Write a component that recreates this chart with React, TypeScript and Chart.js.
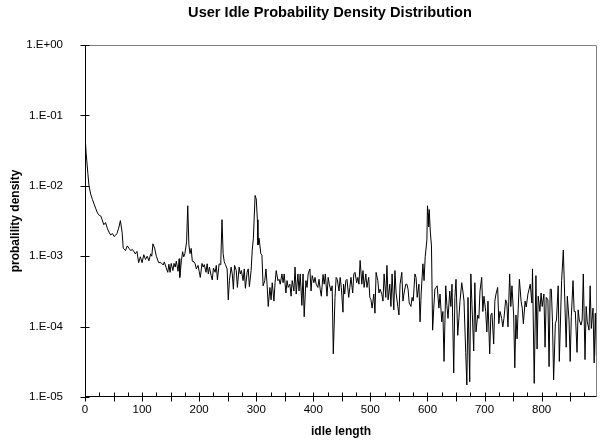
import React, { useEffect, useRef } from 'react';
import { Chart, registerables } from 'chart.js';

Chart.register(...registerables);

const chartTitle = 'User Idle Probability Density Distribution';
const xAxisTitle = 'idle length';
const yAxisTitle = 'probalility density';

const xTickValues = [0, 100, 200, 300, 400, 500, 600, 700, 800];
const xTickLabels = ['0', '100', '200', '300', '400', '500', '600', '700', '800'];
const yTickValues = [1e-5, 1e-4, 1e-3, 1e-2, 1e-1, 1];
const yTickLabels = ['1.E-05', '1.E-04', '1.E-03', '1.E-02', '1.E-01', '1.E+00'];

const idleLength = [
  0, 2, 5, 7, 10, 13, 16, 19, 22, 25,
  28, 30, 33, 36, 39, 42, 45, 48, 51, 54,
  56, 59, 62, 65, 67, 71, 74, 77, 80, 83,
  86, 88, 91, 94, 97, 100, 103, 106, 109, 112,
  115, 117, 119, 122, 125, 129, 133, 137, 139, 142,
  145, 147, 149, 151, 154, 156, 158, 160, 163, 165,
  166, 169, 171, 173, 175, 178, 180, 182, 184, 186,
  188, 191, 193, 195, 198, 200, 202, 205, 207, 209,
  212, 214, 216, 218, 221, 223, 225, 228, 230, 232,
  235, 237, 238, 240, 242, 244, 246, 249, 251, 253,
  256, 258, 260, 262, 265, 267, 270, 272, 274, 277,
  279, 281, 284, 286, 288, 291, 293, 295, 298, 300,
  302, 303, 305, 308, 310, 312, 315, 317, 319, 321,
  324, 326, 328, 331, 333, 335, 338, 340, 342, 345,
  347, 349, 352, 354, 356, 359, 361, 363, 366, 368,
  370, 373, 375, 377, 380, 382, 384, 387, 389, 391,
  394, 396, 398, 401, 403, 405, 408, 410, 412, 414,
  417, 419, 421, 424, 426, 428, 431, 433, 435, 438,
  440, 442, 445, 447, 449, 452, 453, 455, 457, 459,
  462, 464, 466, 469, 471, 473, 476, 478, 480, 482,
  485, 487, 489, 492, 494, 497, 499, 501, 503, 506,
  508, 510, 513, 515, 517, 520, 522, 524, 527, 529,
  531, 534, 536, 538, 541, 543, 545, 548, 550, 552,
  555, 557, 559, 562, 564, 566, 568, 571, 573, 575,
  578, 580, 582, 585, 587, 589, 592, 594, 596, 599,
  600, 601, 602, 603, 605, 607, 609, 611, 613, 615,
  617, 620, 622, 625, 627, 629, 632, 634, 636, 639,
  641, 643, 646, 648, 650, 653, 655, 657, 660, 662,
  664, 667, 669, 671, 674, 676, 678, 681, 683, 685,
  688, 690, 692, 695, 697, 699, 702, 704, 706, 709,
  711, 713, 716, 718, 720, 723, 725, 727, 730, 732,
  734, 737, 739, 741, 744, 746, 748, 751, 753, 755,
  757, 759, 761, 764, 766, 768, 771, 773, 776, 778,
  780, 783, 784, 787, 790, 792, 794, 797, 799, 801,
  804, 806, 808, 811, 813, 815, 817, 819, 821, 824,
  826, 829, 831, 835, 838, 841, 843, 845, 848, 850,
  852, 855, 857, 859, 862, 864, 866, 869, 871, 873,
  876, 878, 880, 883, 885, 887, 890, 892, 894, 896,
  897,
];

const density = [
  5.2e-2, 2.9e-2, 1.5e-2, 1.0e-2, 7.6e-3, 6.4e-3, 5.5e-3, 4.7e-3, 4.1e-3, 3.8e-3,
  3.7e-3, 3.3e-3, 2.8e-3, 3.0e-3, 2.5e-3, 2.2e-3, 2.0e-3, 2.1e-3, 1.9e-3, 2.0e-3,
  2.1e-3, 2.5e-3, 3.2e-3, 2.2e-3, 1.3e-3, 1.2e-3, 1.4e-3, 1.3e-3, 1.2e-3, 1.25e-3,
  1.15e-3, 1.08e-3, 1.17e-3, 8.1e-4, 9.8e-4, 8.1e-4, 1.05e-3, 9.0e-4, 1.0e-3, 8.6e-4,
  1.08e-3, 1.0e-3, 1.5e-3, 1.3e-3, 1.0e-3, 8.1e-4, 8.1e-4, 7.5e-4, 8.3e-4, 6.9e-4,
  5.9e-4, 7.7e-4, 5.9e-4, 7.9e-4, 6.25e-4, 7.9e-4, 7.0e-4, 8.5e-4, 6.1e-4, 9.2e-4,
  5.0e-4, 8.7e-4, 1.16e-3, 9.8e-4, 1.09e-3, 1.6e-3, 5.2e-3, 1.45e-3, 1.09e-3, 1.29e-3,
  8.5e-4, 8.3e-4, 7.8e-4, 6.6e-4, 7.4e-4, 6.1e-4, 5.0e-4, 7.9e-4, 7.0e-4, 7.6e-4,
  5.9e-4, 7.8e-4, 5.6e-4, 7.0e-4, 5.3e-4, 4.6e-4, 6.8e-4, 5.9e-4, 7.4e-4, 4.6e-4,
  7.8e-4, 7.6e-4, 9.0e-4, 3.3e-3, 1.09e-3, 8.3e-4, 7.6e-4, 6.6e-4, 2.4e-4, 4.5e-4,
  7.0e-4, 5.6e-4, 3.4e-4, 7.4e-4, 6.25e-4, 3.6e-4, 7.0e-4, 5.6e-4, 6.25e-4, 4.5e-4,
  6.6e-4, 3.5e-4, 5.9e-4, 6.6e-4, 3.7e-4, 6.25e-4, 1.22e-3, 1.8e-3, 7.3e-3, 6.5e-3,
  3.3e-3, 1.45e-3, 1.8e-3, 1.09e-3, 1.03e-3, 3.8e-4, 4.5e-4, 6.6e-4, 4.0e-4, 1.93e-4,
  3.6e-4, 2.4e-4, 4.2e-4, 2.3e-4, 4.2e-4, 6.25e-4, 4.5e-4, 4.7e-4, 4.0e-4, 5.6e-4,
  4.2e-4, 5.6e-4, 3.0e-4, 4.5e-4, 3.6e-4, 4.0e-4, 2.7e-4, 4.5e-4, 3.2e-4, 7.0e-4,
  2.9e-4, 5.6e-4, 3.2e-4, 5.6e-4, 2.0e-4, 5.6e-4, 1.38e-4, 4.5e-4, 3.6e-4, 5.6e-4,
  6.6e-4, 3.2e-4, 5.3e-4, 4.2e-4, 5.0e-4, 4.0e-4, 3.6e-4, 4.7e-4, 3.4e-4, 2.7e-4,
  5.5e-4, 4.0e-4, 5.6e-4, 2.7e-4, 5.0e-4, 4.0e-4, 3.2e-4, 3.8e-4, 4.1e-5, 2.6e-4,
  5.0e-4, 4.7e-4, 3.2e-4, 5.0e-4, 3.6e-4, 1.6e-4, 4.0e-4, 2.9e-4, 4.5e-4, 4.7e-4,
  2.6e-4, 3.6e-4, 5.0e-4, 3.0e-4, 5.6e-4, 5.9e-4, 4.2e-4, 5.0e-4, 4.0e-4, 8.7e-4,
  4.0e-4, 6.25e-4, 3.6e-4, 5.6e-4, 3.6e-4, 5.0e-4, 2.6e-4, 2.4e-4, 1.83e-4, 2.9e-4,
  1.55e-4, 5.9e-4, 4.5e-4, 3.0e-4, 3.4e-4, 2.9e-4, 2.3e-4, 5.6e-4, 2.6e-4, 7.4e-4,
  2.4e-4, 4.0e-4, 1.93e-4, 5.6e-4, 1.73e-4, 6.25e-4, 3.0e-4, 1.93e-4, 1.46e-4, 4.0e-4,
  5.9e-4, 2.3e-4, 3.0e-4, 4.0e-4, 4.0e-4, 3.4e-4, 2.16e-4, 1.93e-4, 2.6e-4, 2.3e-4,
  5.6e-4, 5.0e-4, 2.6e-4, 4.0e-4, 1.17e-4, 3.0e-4, 7.8e-4, 4.5e-4, 9.8e-4, 1.7e-3,
  5.2e-3, 4.0e-3, 2.6e-3, 4.6e-3, 2.2e-3, 1.4e-3, 8.9e-5, 1.83e-4, 3.4e-4, 3.6e-4,
  3.8e-4, 1.83e-4, 2.9e-4, 1.17e-4, 1.64e-4, 3.2e-5, 3.8e-4, 2.0e-4, 1.31e-4, 3.2e-4,
  1.93e-4, 4.0e-4, 2.2e-5, 2.6e-4, 4.7e-4, 7.5e-5, 1.31e-4, 2.3e-4, 4.2e-4, 3.2e-4,
  2.3e-4, 4.3e-5, 1.48e-5, 2.6e-4, 1.65e-5, 5.6e-4, 2.0e-4, 4.5e-5, 4.2e-4, 8.4e-5,
  1.46e-4, 1.31e-4, 3.2e-4, 5.0e-4, 1.64e-4, 2.7e-4, 1.64e-4, 8.4e-5, 2.3e-4, 4.1e-5,
  1.46e-4, 1.55e-4, 5.65e-5, 2.3e-4, 2.9e-4, 3.6e-4, 1.1e-4, 1.64e-4, 1.31e-4, 9.9e-5,
  1.31e-4, 2.4e-4, 2.16e-4, 9.9e-5, 5.6e-4, 1.93e-4, 3.8e-4, 1.46e-4, 2.6e-5, 1.46e-4,
  6.7e-5, 1.83e-4, 4.7e-4, 2.3e-4, 1.83e-4, 1.1e-4, 2.3e-4, 1.9e-4, 2.9e-4, 3.4e-4,
  4.0e-4, 2.16e-4, 6.6e-4, 1.56e-5, 5.3e-4, 4.8e-5, 2.7e-4, 1.64e-4, 3.0e-4, 1.93e-4,
  2.9e-4, 5.1e-5, 2.6e-4, 2.4e-4, 2.7e-5, 3.4e-4, 3.4e-4, 1.17e-4, 1.75e-5, 1.1e-4,
  1.24e-4, 3.8e-4, 3.2e-5, 4.5e-4, 1.22e-3, 1.83e-4, 5.1e-5, 2.7e-4, 1.24e-4, 3.2e-5,
  1.38e-4, 4.5e-4, 1.64e-4, 1.64e-4, 4.3e-5, 1.73e-4, 1.24e-4, 1.05e-4, 1.24e-4, 5.6e-4,
  3.4e-5, 1.93e-4, 1.17e-4, 8.9e-5, 3.8e-4, 9.4e-5, 1.83e-4, 3.05e-5, 1.55e-4, 3.8e-5,
  7.8e-4,
];

const FONT = '"Liberation Sans", Arial, Helvetica, sans-serif';

export default function App() {
  const canvasRef = useRef<HTMLCanvasElement>(null);

  useEffect(() => {
    const canvas = canvasRef.current;
    if (!canvas) return;
    const n = Math.min(idleLength.length, density.length);
    const points: { x: number; y: number }[] = [];
    for (let i = 0; i < n; i++) points.push({ x: idleLength[i], y: density[i] });

    const framePlugin = {
      id: 'excelFrame',
      afterDraw(chart: any) {
        const { ctx, chartArea: a, scales } = chart;
        const xs = scales.x;
        const ys = scales.y;
        const L = Math.round(a.left) + 0.5;
        const R = Math.round(a.right) - 0.5;
        const T = Math.round(a.top) + 0.5;
        const B = Math.round(a.bottom) - 0.5;
        ctx.save();
        ctx.lineWidth = 1;
        ctx.strokeStyle = '#808080';
        ctx.beginPath();
        ctx.moveTo(L, T);
        ctx.lineTo(R, T);
        ctx.lineTo(R, B);
        ctx.stroke();
        ctx.strokeStyle = '#000000';
        ctx.beginPath();
        ctx.moveTo(L, T);
        ctx.lineTo(L, B);
        ctx.lineTo(R, B);
        ctx.stroke();
        ctx.beginPath();
        for (const v of yTickValues) {
          const y = Math.round(ys.getPixelForValue(v)) + 0.5;
          ctx.moveTo(L - 5, y);
          ctx.lineTo(L + 4, y);
        }
        for (let v = 0; v <= xs.max; v += 25) {
          const x = Math.round(xs.getPixelForValue(v)) + 0.5;
          if (v % 50 === 0) {
            ctx.moveTo(x, B - 4);
            ctx.lineTo(x, B + 5);
          } else {
            ctx.moveTo(x, B - 4);
            ctx.lineTo(x, B);
          }
        }
        ctx.stroke();
        ctx.fillStyle = '#000000';
        ctx.font = `bold 14.6px ${FONT}`;
        ctx.textAlign = 'center';
        ctx.textBaseline = 'middle';
        ctx.fillText(chartTitle, 330, 13);
        ctx.restore();
      },
    };

    const chart = new Chart(canvas, {
      type: 'line',
      data: {
        datasets: [
          {
            data: points,
            borderColor: '#000000',
            borderWidth: 1,
            pointRadius: 0,
            fill: false,
            tension: 0,
          },
        ],
      },
      options: {
        responsive: false,
        animation: false,
        devicePixelRatio: 1,
        layout: { padding: { top: 45, right: 3, left: 0, bottom: 0 } },
        plugins: {
          legend: { display: false },
          tooltip: { enabled: false },
          title: { display: false },
        },
        scales: {
          x: {
            type: 'linear',
            min: 0,
            max: 897,
            grid: { display: false, drawTicks: false },
            border: { display: false },
            afterBuildTicks: (s: any) => {
              s.ticks = xTickValues.map((v) => ({ value: v }));
            },
            afterFit: (s: any) => {
              s.height = 46;
            },
            ticks: {
              autoSkip: false,
              maxRotation: 0,
              padding: 6,
              color: '#000000',
              font: { family: FONT, size: 11.5 },
              callback: (v: any) => {
                const i = xTickValues.indexOf(Number(v));
                return i >= 0 ? xTickLabels[i] : '';
              },
            },
            title: {
              display: true,
              text: xAxisTitle,
              color: '#000000',
              font: { family: FONT, size: 12, weight: 'bold' },
              padding: { top: 0, bottom: 4 },
            },
          },
          y: {
            type: 'logarithmic',
            min: 1e-5,
            max: 1,
            grid: { display: false, drawTicks: false },
            border: { display: false },
            afterBuildTicks: (s: any) => {
              s.ticks = yTickValues.map((v) => ({ value: v }));
            },
            afterFit: (s: any) => {
              s.width = 85;
            },
            ticks: {
              autoSkip: false,
              padding: 22,
              color: '#000000',
              font: { family: FONT, size: 11.5 },
              callback: (v: any) => {
                const i = yTickValues.findIndex((t) => Math.abs(Math.log10(t) - Math.log10(Number(v))) < 1e-6);
                return i >= 0 ? yTickLabels[i] : '';
              },
            },
            title: {
              display: true,
              text: yAxisTitle,
              color: '#000000',
              font: { family: FONT, size: 12, weight: 'bold' },
              padding: { top: 8, bottom: 0 },
            },
          },
        },
      },
      plugins: [framePlugin],
    } as any);

    return () => chart.destroy();
  }, []);

  return (
    <div style={{ position: 'fixed', left: 0, top: 0, width: 600, height: 443, background: '#ffffff' }}>
      <canvas ref={canvasRef} width={600} height={443} style={{ display: 'block', width: 600, height: 443 }} />
    </div>
  );
}
